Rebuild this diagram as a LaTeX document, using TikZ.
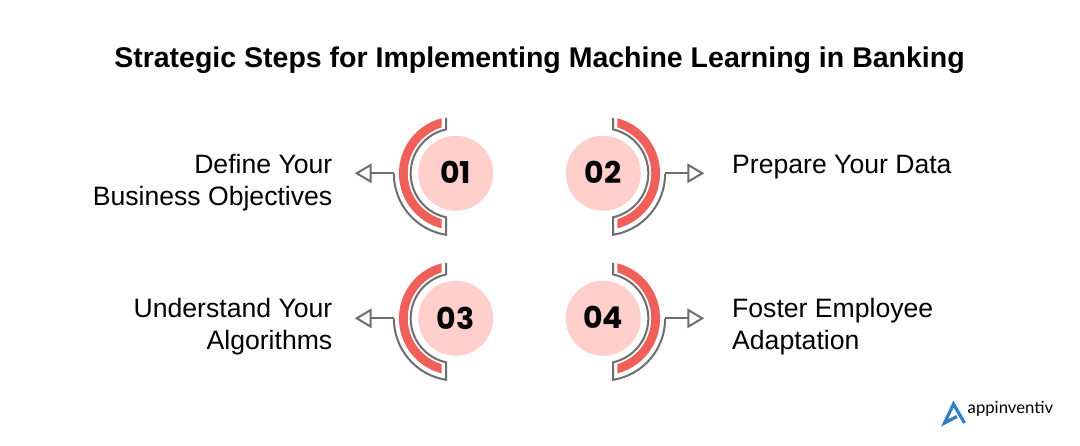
\documentclass[tikz,border=0pt]{standalone}
\usepackage{fontspec}
\setmainfont{Liberation Sans}
\newfontfamily\numfont{Poppins SemiBold}[BoldFont={Poppins Bold}]
\newfontfamily\logofont{Lato}
\definecolor{redarc}{HTML}{F0605A}
\definecolor{pinkdisc}{HTML}{FFD0CB}
\definecolor{framegray}{HTML}{6E6E6E}
\definecolor{logoblue}{HTML}{2F80C8}
\tikzset{
  x=1pt,y=1pt,
  titletext/.style={font=\fontsize{28.5}{32}\selectfont\bfseries,text=black,inner sep=0pt,anchor=base},
  steptext/.style={font=\fontsize{26.6}{32}\selectfont,text=black,inner sep=0pt,align=left},
  disc/.style={circle,fill=pinkdisc,draw=none,minimum size=75pt,inner sep=0pt,
    font=\numfont\fontsize{30}{32}\selectfont\bfseries,text=black},
  frameline/.style={draw=framegray,line width=2pt,line join=miter},
  arrowhead/.style={draw=framegray,line width=2pt,fill=white,line join=miter},
}
% #1 name, #2 cx (pixels), #3 cy (pixels from top), #4 direction (1 = opening right, -1 = opening left)
\newcommand{\stepmark}[4]{%
  \begin{scope}[shift={(#2,445-#3)},xscale=#4]
    \fill[redarc] (-14,55) arc[start angle=104.3,end angle=255.7,radius=56.8] -- (-14,-45.9)
      arc[start angle=253,end angle=107,radius=48] -- cycle;
    \draw[frameline] (-9.7,55.5) -- (-9.7,43.9) arc[start angle=102.4,end angle=257.6,radius=45]
      -- (-9.7,-61.5) arc[start angle=261,end angle=180,radius=61.8];
    \coordinate (#1bend) at (-61.8,0);
    \coordinate (#1tip) at (-99,0);
    \coordinate (#1up) at (-85,8.3);
    \coordinate (#1dn) at (-85,-8.3);
    \coordinate (#1back) at (-85,0);
  \end{scope}
  \draw[frameline] (#1bend) -- (#1back);
  \draw[arrowhead] (#1tip) -- (#1up) -- (#1dn) -- cycle;
}
\begin{document}
\begin{tikzpicture}
\useasboundingbox (0,0) rectangle (1080,445);
\fill[white] (0,0) rectangle (1080,445);
\node[titletext] (title) at (539.5,445-68) {Strategic Steps for Implementing Machine Learning in Banking};
\stepmark{a}{455.7}{173.3}{1}
\stepmark{b}{603.3}{173.3}{-1}
\stepmark{c}{455.7}{318.3}{1}
\stepmark{d}{603.3}{318.3}{-1}
\node[disc] (n1) at (455.7,445-173.3) {\raisebox{1pt}{01}};
\node[disc] (n2) at (603.3,445-173.3) {\raisebox{1pt}{02}};
\node[disc] (n3) at (455.7,445-318.3) {\raisebox{1pt}{03}};
\node[disc] (n4) at (603.3,445-318.3) {\raisebox{1pt}{04}};
\node[steptext,align=right,anchor=east] (t1) at (332.5,445-183) {Define Your\\Business Objectives};
\node[steptext,anchor=base west] (t2) at (732,445-174) {Prepare Your Data};
\node[steptext,align=right,anchor=east] (t3) at (332.5,445-327) {Understand Your\\Algorithms};
\node[steptext,anchor=west] (t4) at (732,445-327) {Foster Employee\\Adaptation};
\draw[logoblue,line width=3.2pt,line join=miter,line cap=butt]
  (964.5,445-423) -- (953.5,445-404) -- (944.5,445-423) -- (957,445-416.5);
\node[inner sep=0pt,anchor=base west,font=\logofont\fontsize{16.7}{22}\selectfont,text=black] (logo) at (967.5,445-414) {appinventiv};
\end{tikzpicture}
\end{document}
